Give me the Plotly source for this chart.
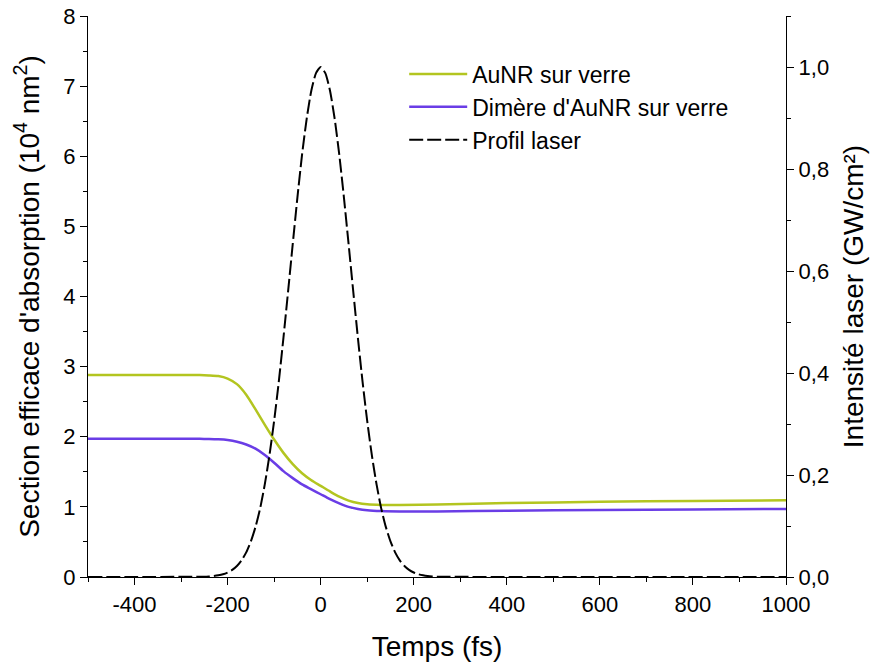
import plotly.graph_objects as go

# ---- data ----
t_curves = [-500, -400, -300, -260, -240, -220, -200, -180, -160, -140, -120, -100, -80, -60, -40, -20,
            0, 20, 40, 60, 80, 100, 130, 170, 250, 400, 600, 800, 1000]
aunr_verre = [2.88, 2.88, 2.88, 2.88, 2.875, 2.865, 2.83, 2.75, 2.60, 2.39, 2.17, 1.96, 1.77, 1.61, 1.48, 1.38,
              1.30, 1.22, 1.145, 1.09, 1.055, 1.037, 1.028, 1.027, 1.035, 1.055, 1.072, 1.085, 1.095]
dimere_verre = [1.97, 1.97, 1.97, 1.97, 1.968, 1.963, 1.953, 1.93, 1.89, 1.83, 1.74, 1.63, 1.51, 1.41, 1.32, 1.25,
                1.18, 1.11, 1.05, 1.00, 0.97, 0.952, 0.94, 0.934, 0.935, 0.945, 0.955, 0.963, 0.97]

t_laser = [-500, -250, -240, -230, -220, -210, -200, -190, -180, -170, -160, -150, -140, -130, -120, -110,
           -100, -90, -80, -70, -60, -50, -40, -30, -20, -10, 0, 10, 20, 30, 40, 50, 60, 70, 80, 90,
           100, 110, 120, 130, 140, 150, 160, 170, 180, 190, 200, 210, 220, 230, 240, 250, 1000]
profil_laser = [0.0, 0.0006, 0.0011, 0.0019, 0.0033, 0.0054, 0.0088, 0.0139, 0.0216, 0.0327, 0.0483, 0.0698,
                0.0983, 0.135, 0.182, 0.239, 0.306, 0.383, 0.469, 0.560, 0.653, 0.744, 0.828, 0.899, 0.954,
                0.988, 1.0, 0.988, 0.954, 0.899, 0.828, 0.744, 0.653, 0.560, 0.469, 0.383, 0.306, 0.239,
                0.182, 0.135, 0.0983, 0.0698, 0.0483, 0.0327, 0.0216, 0.0139, 0.0088, 0.0054, 0.0033,
                0.0019, 0.0011, 0.0006, 0.0]

x_tick_vals = [-400, -200, 0, 200, 400, 600, 800, 1000]
x_tick_text = ["-400", "-200", "0", "200", "400", "600", "800", "1000"]
y_tick_vals = [0, 1, 2, 3, 4, 5, 6, 7, 8]
y2_tick_vals = [0.0, 0.2, 0.4, 0.6, 0.8, 1.0]
y2_tick_text = ["0,0", "0,2", "0,4", "0,6", "0,8", "1,0"]

FONT = "Liberation Sans, Arial, sans-serif"
GREEN = "#b3c520"
PURPLE = "#6a3de6"

fig = go.Figure()
fig.add_trace(go.Scatter(x=t_curves, y=aunr_verre, mode="lines", name="AuNR sur verre",
                         line=dict(color=GREEN, width=2.5, shape="spline", smoothing=0.7)))
fig.add_trace(go.Scatter(x=t_curves, y=dimere_verre, mode="lines", name="Dimère d'AuNR sur verre",
                         line=dict(color=PURPLE, width=2.5, shape="spline", smoothing=0.7)))
fig.add_trace(go.Scatter(x=t_laser, y=profil_laser, mode="lines", name="Profil laser", yaxis="y2",
                         line=dict(color="black", width=2, dash="14px,4px", shape="spline", smoothing=0.6)))

axis_common = dict(showline=True, linecolor="black", linewidth=1.3, ticks="outside", ticklen=7,
                   tickcolor="black", tickwidth=1.2, showgrid=False, zeroline=False, automargin=False,
                   ticklabeloverflow="allow",
                   tickfont=dict(family=FONT, size=22, color="black"))

fig.update_layout(
    width=876, height=668,
    margin=dict(l=88, r=90, t=16, b=91),
    paper_bgcolor="white", plot_bgcolor="white",
    font=dict(family=FONT, color="black"),
    showlegend=True,
    legend=dict(x=0.453, y=0.935, xanchor="left", yanchor="top", bgcolor="rgba(0,0,0,0)",
                font=dict(family=FONT, size=23, color="black"), itemwidth=58, tracegroupgap=0),
    xaxis=dict(range=[-500, 1000], tickvals=x_tick_vals, ticktext=x_tick_text,
               minor=dict(dtick=100, tick0=0, ticks="outside", ticklen=4, tickcolor="black"),
               title=dict(text="Temps (fs)", font=dict(family=FONT, size=28), standoff=20),
               **axis_common),
    yaxis=dict(range=[0, 8], tickvals=y_tick_vals,
               minor=dict(dtick=0.5, ticks="outside", ticklen=4, tickcolor="black"),
               title=dict(text="Section efficace d'absorption (10<sup>4</sup> nm<sup>2</sup>)",
                          font=dict(family=FONT, size=28)),
               **axis_common),
    yaxis2=dict(range=[0, 1.1], overlaying="y", side="right", tickvals=y2_tick_vals, ticktext=y2_tick_text,
                minor=dict(dtick=0.1, ticks="outside", ticklen=4, tickcolor="black"),
                title=dict(text="Intensité laser (GW/cm²)", font=dict(family=FONT, size=28)),
                **axis_common),
)

fig.write_html("out.html", config={"displayModeBar": False},
               post_script="document.body.style.margin='0';document.body.style.overflow='hidden';")
